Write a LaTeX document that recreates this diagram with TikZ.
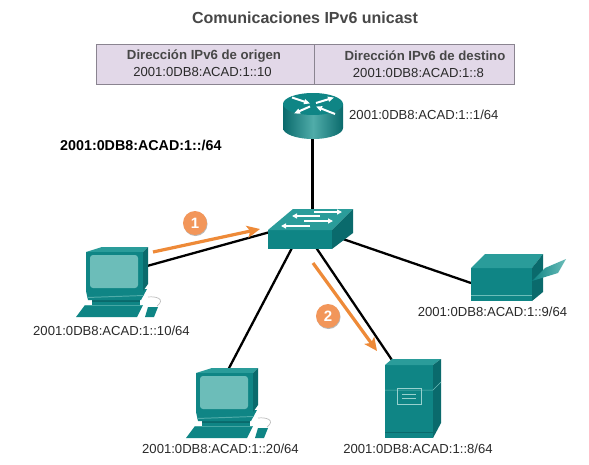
\documentclass[tikz,border=0pt]{standalone}
\usepackage{fontspec}
\setmainfont{Liberation Sans}
\usetikzlibrary{arrows.meta,calc}
\definecolor{tealF}{HTML}{0F8585}
\definecolor{tealT}{HTML}{2A9C9A}
\definecolor{tealS}{HTML}{0A6A6C}
\definecolor{tealL}{HTML}{6CBDB9}
\definecolor{tblfill}{HTML}{E2D8E8}
\definecolor{tbledge}{HTML}{8A8490}
\definecolor{orangeA}{HTML}{EE8A38}
\definecolor{badgeC}{HTML}{F2965A}
\definecolor{txt}{HTML}{2A2A2A}
\tikzset{
 lbl/.style={font=\fontsize{13.1}{15}\selectfont,text=txt,inner sep=0pt},
 hdr/.style={font=\fontsize{13.2}{15}\selectfont\bfseries,text=black!72,inner sep=0pt},
 link/.style={line width=2.3pt,black},
 flow/.style={line width=3.2pt,orangeA,-{Stealth[length=13pt,width=12pt,inset=3pt]}},
 badge/.style={circle,fill=badgeC,minimum size=24pt,inner sep=0pt,text=white,font=\fontsize{15}{17}\selectfont\bfseries},
 shadowdisc/.style={circle,fill=black!28,minimum size=24pt,inner sep=0pt},
 arrw/.style={white,line width=1.4pt,-{Triangle[length=5pt,width=5pt]}},
 rarrw/.style={white,line width=2pt,-{Triangle[length=6pt,width=5pt]}},
 cellbox/.style={draw=tbledge,line width=1pt,fill=tblfill,minimum height=40pt,inner sep=0pt},
}
\newcommand{\pcicon}[2]{%
 \begin{scope}[shift={(#1,#2)}]
  \draw[black!25,line width=.7pt] (62,50) .. controls (70,49) and (80,52) .. (71,59);
  \fill[tealF] (6,52) rectangle (54,59);
  \fill[tealS] (6,52) rectangle (54,55);
  \fill[tealF] (0,44) -- (61,42) -- (55,53) -- (2,53) -- cycle;
  \fill[tealL!70!tealF] (1,50) -- (58,48) -- (57,49) -- (1,51) -- cycle;
  \fill[tealF] (-1,58) -- (57,58) -- (51,70) -- (-10,70) -- cycle;
  \fill[tealL!60!tealF] (-1,58) -- (57,58) -- (57,59) -- (-1,59) -- cycle;
  \fill[tealF] (62,60) -- (72,60) -- (68,70) -- (59,70) -- cycle;
  \fill[tealT] (0,5) -- (16,0) -- (62,0) -- (57,5) -- cycle;
  \fill[tealF] (0,5) rectangle (57,44);
  \fill[tealS] (57,5) -- (62,0) -- (62,37) -- (57,44) -- cycle;
  \fill[tealL,rounded corners=3pt] (4,8) rectangle (52,41);
 \end{scope}}
\begin{document}
\begin{tikzpicture}[x=1pt,y=-1pt]
\useasboundingbox (0,0) rectangle (589,464);
\fill[white] (0,0) rectangle (589,464);
% anchors
\coordinate (rb) at (312.5,139);
\coordinate (st) at (312.5,212);
\coordinate (pc1e) at (147,266);
\coordinate (swl) at (270,232);
\coordinate (pc2e) at (228,370);
\coordinate (swb) at (293,246);
\coordinate (srve) at (396,366);
\coordinate (swc) at (315,246);
\coordinate (prne) at (471,283);
\coordinate (swr) at (340,238);
\coordinate (f1a) at (153,252);
\coordinate (f1b) at (260,229);
\coordinate (f2a) at (313,263);
\coordinate (f2b) at (377,351);
% links
\draw[link] (rb) -- (st);
\draw[link] (pc1e) -- (swl);
\draw[link] (pc2e) -- (swb);
\draw[link] (srve) -- (swc);
\draw[link] (prne) -- (swr);
% title and table
\node[font=\fontsize{16}{19}\selectfont\bfseries,text=black!72] (title) at (305,18) {Comunicaciones IPv6 unicast};
\node[cellbox,minimum width=218pt] (cellA) at (205,64) {};
\node[cellbox,minimum width=200pt] (cellB) at (414,64) {};
\node[hdr] (h1) at (204,56) {Dirección IPv6 de origen};
\node[lbl] (a1) at (202.5,72) {2001:0DB8:ACAD:1::10};
\node[hdr] (h2) at (425,56) {Dirección IPv6 de destino};
\node[lbl] (a2) at (418.5,72.5) {2001:0DB8:ACAD:1::8};
% router
\shade[left color=tealS,right color=tealS,middle color=tealL!70!tealF] (283,104) -- (283,128) arc[start angle=180,end angle=0,x radius=30,y radius=11] -- (343,104) -- cycle;
\fill[tealF] (313,104) ellipse[x radius=30,y radius=11];
\draw[rarrw] (292,97.5) -- (310,103.5);
\draw[rarrw] (316,103) -- (334,97.5);
\draw[rarrw] (310,106.5) -- (294,113.5);
\draw[rarrw] (335,114) -- (316,106.5);
% switch
\fill[tealF] (268,230) -- (332,230) -- (332,249) -- (268,249) -- cycle;
\fill[tealT] (268,230) -- (293,209) -- (353,209) -- (332,230) -- cycle;
\fill[tealS] (332,230) -- (353,209) -- (353,233) -- (332,249) -- cycle;
\draw[arrw] (314,212) -- (342,212);
\draw[arrw] (320,216) -- (292,216);
\draw[arrw] (304,221) -- (333,221);
\draw[arrw] (310,226) -- (281,226);
% PCs
\pcicon{86}{247}
\pcicon{196}{368}
% printer
\fill[tealF] (471,268) rectangle (532,301);
\fill[tealT] (471,268) -- (485,254) -- (543,254) -- (532,268) -- cycle;
\fill[tealS] (532,268) -- (543,254) -- (543,292) -- (532,301) -- cycle;
\draw[tealL,line width=.6pt] (471,295) -- (532,295);
\shade[left color=tealF,right color=tealL] (532,281) -- (545,268) -- (566,259) -- (558,273) -- cycle;
% server
\fill[tealF] (385,365) rectangle (433,438);
\fill[tealT] (385,365) -- (392,359) -- (441,359) -- (433,365) -- cycle;
\fill[tealS] (433,365) -- (441,359) -- (441,423) -- (433,438) -- cycle;
\draw[tealL,line width=.5pt] (385,390) -- (433,390) -- (441,382);
\draw[tealS,line width=.7pt] (385,432) -- (433,432);
\draw[tealL!70!white,line width=.9pt] (397,388) rectangle (421,404);
\draw[tealL!70!white,line width=.8pt] (402,394) -- (416,394) (402,398) -- (416,398);
% flows
\draw[flow] (f1a) -- (f1b);
\draw[flow] (f2a) -- (f2b);
\node[shadowdisc] (s1) at (195.5,224) {};
\node[shadowdisc] (s2) at (328.5,317) {};
\node[badge] (b1) at (195,223) {1};
\node[badge] (b2) at (328,316) {2};
% labels
\node[lbl,anchor=west] (lr) at (349,115) {2001:0DB8:ACAD:1::1/64};
\node[lbl,anchor=west,font=\fontsize{14.3}{16}\selectfont\bfseries,text=black] (net) at (60,145) {2001:0DB8:ACAD:1::/64};
\node[lbl] (l1) at (111.5,331) {2001:0DB8:ACAD:1::10/64};
\node[lbl] (l2) at (220.5,449) {2001:0DB8:ACAD:1::20/64};
\node[lbl] (l3) at (418,449) {2001:0DB8:ACAD:1::8/64};
\node[lbl] (l4) at (492.5,312) {2001:0DB8:ACAD:1::9/64};
\end{tikzpicture}
\end{document}
